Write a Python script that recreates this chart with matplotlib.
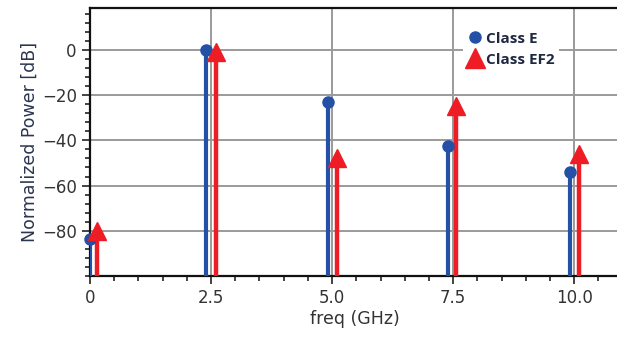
import numpy as np
import matplotlib.pyplot as plt
from matplotlib.lines import Line2D
from matplotlib.ticker import MultipleLocator

# harmonic frequencies (GHz) and normalized power (dB)
freq_e = [0.0, 2.4, 4.91, 7.39, 9.92]
power_e = [-83.5, 0.0, -23.0, -42.3, -54.0]
freq_ef2 = [0.14, 2.6, 5.11, 7.56, 10.1]
power_ef2 = [-80.0, -1.0, -48.0, -25.0, -46.0]
xticks = [0, 2.5, 5.0, 7.5, 10.0]
xticklabels = ["0", "2.5", "5.0", "7.5", "10.0"]
yticks = [0, -20, -40, -60, -80]

blue = '#2451a6'
red = '#ee1c25'

fig = plt.figure(figsize=(6.17, 3.38), dpi=100)
ax = fig.add_axes([0.1459, 0.1834, 0.86, 0.7929])

ax.grid(True, color='#9a9a9a', linewidth=1.4, zorder=0)
ax.set_axisbelow(True)

# stems go down to the bottom of the plot
ax.vlines(freq_e, -100, power_e, color=blue, linewidth=3, zorder=3)
ax.plot(freq_e, power_e, 'o', color=blue, markersize=8, zorder=4, clip_on=False)
ax.vlines(freq_ef2, -100, power_ef2, color=red, linewidth=3.2, zorder=3)
ax.plot(freq_ef2, power_ef2, '^', color=red, markersize=13, zorder=4, clip_on=False)

ax.set_xlim(0, 10.96)
ax.set_ylim(-100, 18.5)
ax.set_xticks(xticks)
ax.set_xticklabels(xticklabels)
ax.set_yticks(yticks)
ax.xaxis.set_minor_locator(MultipleLocator(0.5))
ax.yaxis.set_minor_locator(MultipleLocator(4))
ax.tick_params(which='major', length=6, width=1.2, labelsize=12, colors='#222222', labelcolor='#333333')
ax.tick_params(which='minor', length=3.5, width=1.2, colors='#222222')

for s in ['top', 'left', 'bottom']:
    ax.spines[s].set_linewidth(1.6)
    ax.spines[s].set_color('#111111')
ax.spines['right'].set_visible(False)

ax.set_xlabel("freq (GHz)", fontsize=12.5, color='#333333', labelpad=2)
ax.set_ylabel("Normalized Power [dB]", fontsize=12.5, color='#2b3550', labelpad=2)

handles = [Line2D([], [], marker='o', color=blue, linestyle='none', markersize=8),
           Line2D([], [], marker='^', color=red, linestyle='none', markersize=14)]
leg = ax.legend(handles, ["Class E", "Class EF2"], loc='upper left',
                bbox_to_anchor=(0.689, 0.957), frameon=True, framealpha=1,
                edgecolor='none', facecolor='white', handlelength=1.0,
                handletextpad=0.2, labelspacing=0.45, borderpad=0.3,
                prop={'family': 'Open Sans', 'weight': 'bold', 'size': 11})
for t in leg.get_texts():
    t.set_color('#1f2840')

fig.savefig('out.png', dpi=100)
